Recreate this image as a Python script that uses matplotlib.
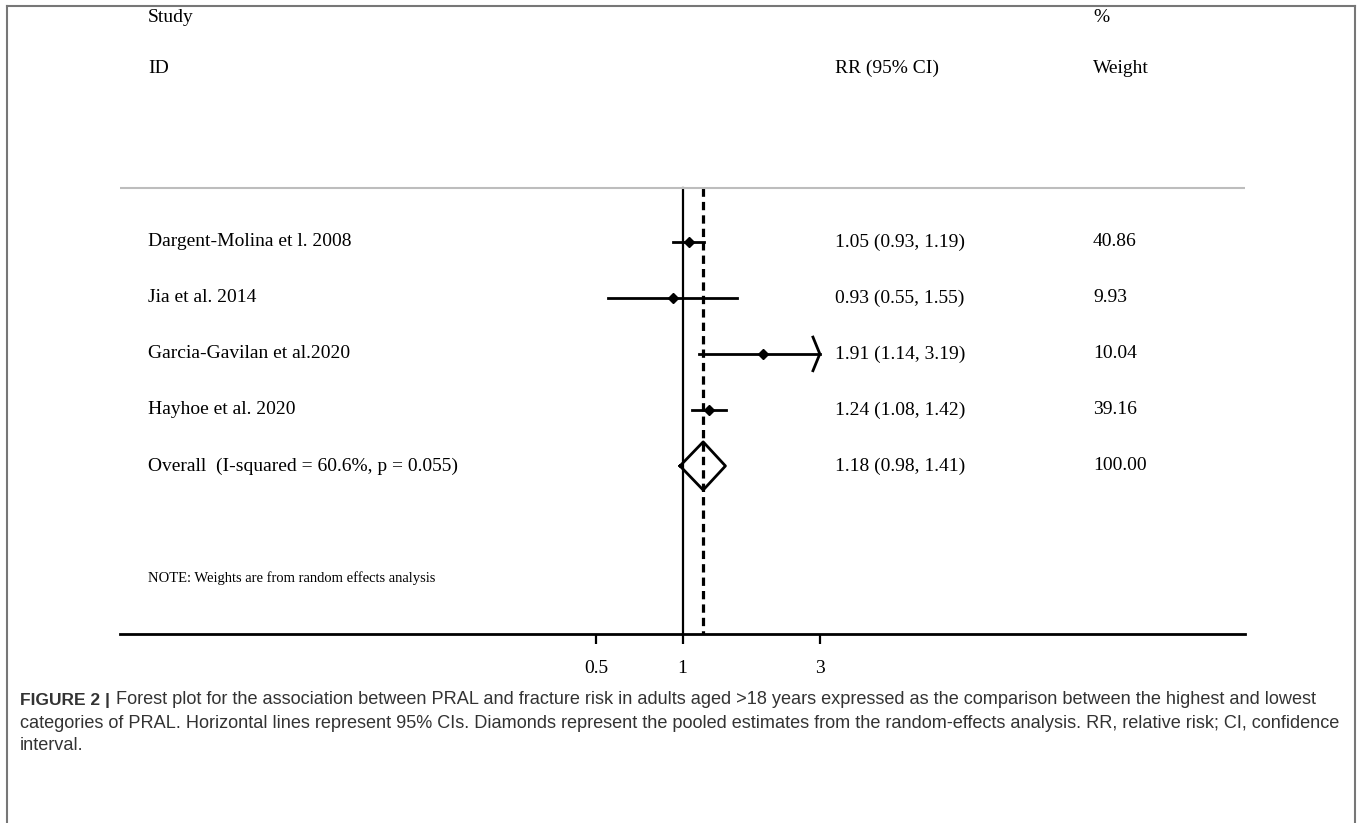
import numpy as np
import matplotlib.pyplot as plt
from matplotlib.lines import Line2D
from matplotlib.transforms import blended_transform_factory

# study data (RR with 95% CI, random-effects weights)
studies = ['Dargent-Molina et l. 2008', 'Jia et al. 2014',
           'Garcia-Gavilan et al.2020', 'Hayhoe et al. 2020']
rr = [1.05, 0.93, 1.91, 1.24]
ci_lo = [0.93, 0.55, 1.14, 1.08]
ci_hi = [1.19, 1.55, 3.19, 1.42]
weights = [40.86, 9.93, 10.04, 39.16]

overall_label = 'Overall  (I-squared = 60.6%, p = 0.055)'
overall_rr, overall_lo, overall_hi, overall_w = 1.18, 0.98, 1.41, 100.00

xticks = [0.5, 1, 3]
xtick_labels = ['0.5', '1', '3']
x_clip = 3  # CIs beyond this get an arrow

note = 'NOTE: Weights are from random effects analysis'
caption_bold = 'FIGURE 2 |'
caption_lines = [
    'Forest plot for the association between PRAL and fracture risk in adults aged >18 years expressed as the comparison between the highest and lowest',
    'categories of PRAL. Horizontal lines represent 95% CIs. Diamonds represent the pooled estimates from the random-effects analysis. RR, relative risk; CI, confidence',
    'interval.',
]

W, H = 1357, 823
serif = ['Liberation Serif', 'DejaVu Serif']
sans = ['Liberation Sans Narrow', 'Liberation Sans', 'DejaVu Sans']


def fx(px):
    return px / W


def fy(py):
    return 1 - py / H


fig = plt.figure(figsize=(W / 100, H / 100), dpi=100)
fig.patch.set_facecolor('white')

# plot area: x in log RR, y in row units (row 0 = first study)
ax = fig.add_axes([fx(120), fy(634), fx(1245) - fx(120), fy(1) - fy(634)])
ax.set_xscale('log')
ax.set_xlim(np.exp(-4.5), np.exp(4.5))
ax.set_ylim(7, -4.3)
for s in ['top', 'left', 'right']:
    ax.spines[s].set_visible(False)
ax.spines['bottom'].set_linewidth(2)
ax.set_yticks([])
ax.set_xticks(xticks)
ax.set_xticklabels(xtick_labels, fontfamily=serif, fontsize=14)
ax.xaxis.set_minor_locator(plt.NullLocator())
ax.tick_params(axis='x', length=7.5, width=1.6, pad=11)

line_row = -0.96
rows = np.arange(len(studies))
overall_row = len(studies)

# reference line at 1 and dashed line at pooled estimate
ax.plot([1, 1], [line_row, 7], color='black', lw=1.6)
ax.plot([overall_rr, overall_rr], [line_row, 7], color='black', lw=2.3,
        linestyle=(0, (2.6, 1.6)))
ax.plot(ax.get_xlim(), [line_row, line_row], color='#bdbdbd', lw=1.5)

for i in rows:
    hi = min(ci_hi[i], x_clip)
    ax.plot([ci_lo[i], hi], [i, i], color='black', lw=2)
    if ci_hi[i] > x_clip:
        ax.plot([hi * np.exp(-0.055), hi, hi * np.exp(-0.055)], [i - 0.3, i, i + 0.3],
                color='black', lw=2)
    ax.plot(rr[i], i, marker='D', color='black', ms=5)

h = 0.43
ax.plot([overall_lo, overall_rr, overall_hi, overall_rr, overall_lo],
        [overall_row, overall_row - h, overall_row, overall_row + h, overall_row],
        color='black', lw=2)

# text columns
tr = blended_transform_factory(fig.transFigure, ax.transData)
txt = dict(transform=tr, fontfamily=serif, fontsize=14, va='center', ha='left')
ax.text(fx(148), -4.0, 'Study', **txt)
ax.text(fx(148), -3.1, 'ID', **txt)
ax.text(fx(835), -3.1, 'RR (95% CI)', **txt)
ax.text(fx(1093), -4.0, '%', **txt)
ax.text(fx(1093), -3.1, 'Weight', **txt)

for i in rows:
    ax.text(fx(148), i, studies[i], **txt)
    ax.text(fx(835), i, f'{rr[i]:.2f} ({ci_lo[i]:.2f}, {ci_hi[i]:.2f})', **txt)
    ax.text(fx(1093), i, f'{weights[i]:.2f}', **txt)
ax.text(fx(148), overall_row, overall_label, **txt)
ax.text(fx(835), overall_row, f'{overall_rr:.2f} ({overall_lo:.2f}, {overall_hi:.2f})', **txt)
ax.text(fx(1093), overall_row, f'{overall_w:.2f}', **txt)
ax.text(fx(148), 6.0, note, transform=tr, fontfamily=serif, fontsize=10.5,
        va='center', ha='left')

# grey frame around the figure panel
frame = dict(color='#777777', lw=1.5, transform=fig.transFigure)
fig.add_artist(Line2D([fx(7), fx(1355)], [fy(6), fy(6)], **frame))
fig.add_artist(Line2D([fx(7), fx(7)], [fy(6), 0], **frame))
fig.add_artist(Line2D([fx(1355), fx(1355)], [fy(6), 0], **frame))

# caption
cap = dict(fontfamily=sans, color='#333333', va='center', ha='left')
b = fig.text(fx(20), fy(700), caption_bold, fontweight='bold', fontsize=12.5, **cap)
fig.canvas.draw()
bb = b.get_window_extent()
fig.text(fx(bb.x1 + 6), fy(700), caption_lines[0], fontsize=13.1, **cap)
fig.text(fx(20), fy(723), caption_lines[1], fontsize=13.1, **cap)
fig.text(fx(20), fy(746), caption_lines[2], fontsize=13.1, **cap)

fig.savefig('out.png', dpi=100)
